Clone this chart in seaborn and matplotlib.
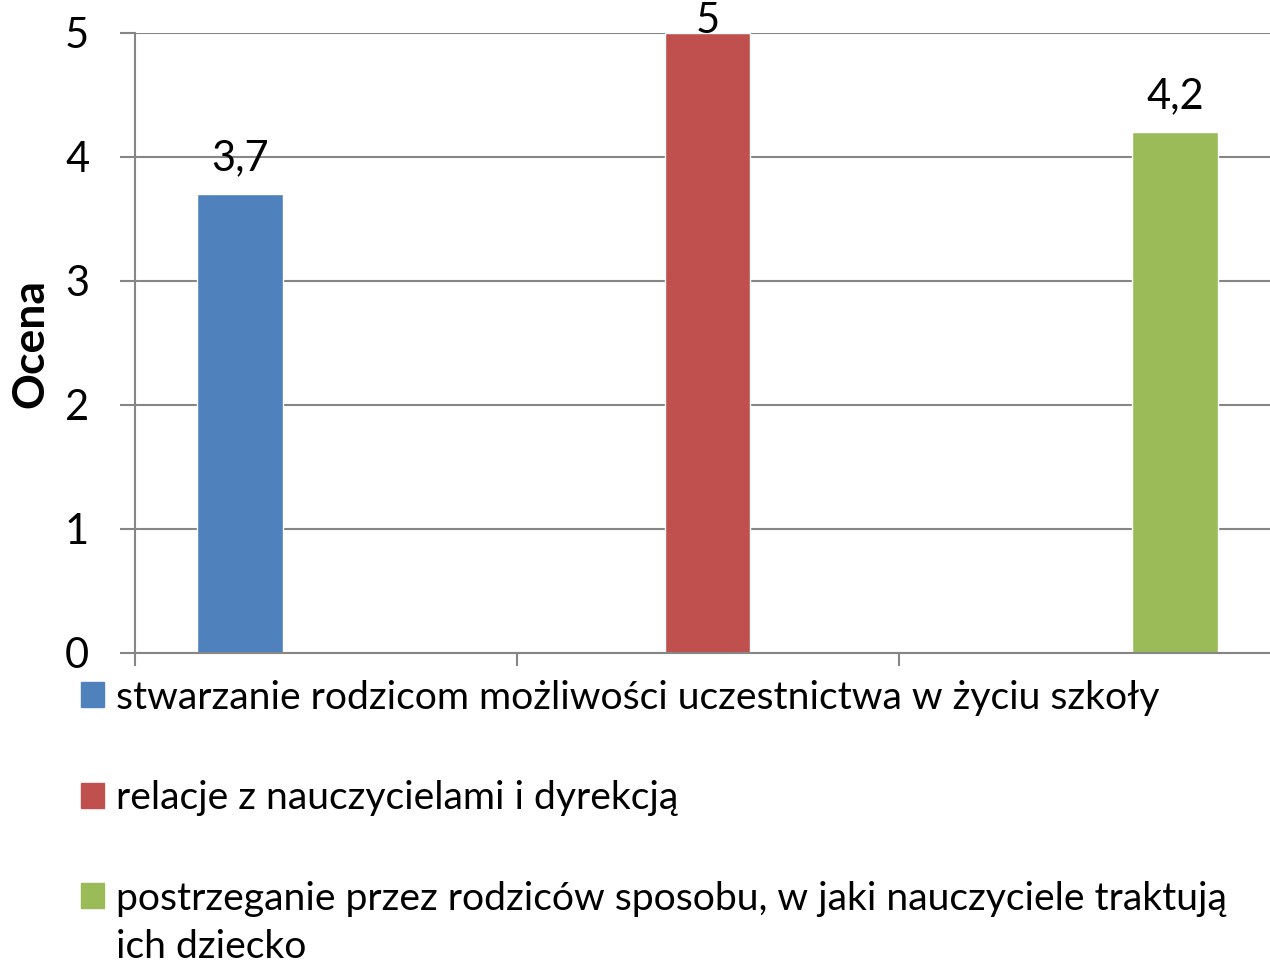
import numpy as np
import pandas as pd
import seaborn as sns
import matplotlib.pyplot as plt
from matplotlib.legend_handler import HandlerPatch

categories = [
    "stwarzanie rodzicom możliwości uczestnictwa w życiu szkoły",
    "relacje z nauczycielami i dyrekcją",
    "postrzeganie przez rodziców sposobu, w jaki nauczyciele traktują\nich dziecko",
]
values = [3.7, 5.0, 4.2]
value_labels = ["3,7", "5", "4,2"]
colors = ["#4F81BD", "#C0504D", "#9BBB59"]

df = pd.DataFrame({"kategoria": categories, "ocena": values})

sns.set_theme(style="white")
plt.rcParams["font.family"] = ["Lato", "DejaVu Sans"]
plt.rcParams["text.color"] = "black"
plt.rcParams["ytick.labelcolor"] = "black"

fig = plt.figure(figsize=(12.7, 9.65), dpi=100)
ax = fig.add_axes([135 / 1270, 312 / 965, 1146 / 1270, 620 / 965])

sns.barplot(data=df, x="kategoria", y="ocena", hue="kategoria",
            palette=colors, width=0.182, saturation=1, legend=False, ax=ax)

lo = -0.2246
hi = lo + 1146 / 467.5
ax.set_xlim(lo, hi)
ax.set_ylim(0, 5)
ax.set_yticks(range(6))
ax.set_xticks(np.linspace(lo, hi, 4)[:3])
ax.set_xticklabels([])
ax.set_xlabel("")
ax.set_ylabel("")

ax.yaxis.grid(True, color="#868686", linewidth=1.5)
ax.set_axisbelow(True)
for s in ["top", "right"]:
    ax.spines[s].set_visible(False)
for s in ["left", "bottom"]:
    ax.spines[s].set_color("#868686")
    ax.spines[s].set_linewidth(1.5)
ax.tick_params(axis="y", labelsize=30, length=11, width=1.5, color="#868686",
               labelcolor="black", direction="out", pad=22, left=True)
ax.tick_params(axis="x", length=9, width=1.5, color="#868686",
               direction="out", bottom=True)

# data labels
for i, (v, lab) in enumerate(zip(values, value_labels)):
    off = 12 if v < 4.8 else -5
    ax.annotate(lab, (i, v), xytext=(0, off), textcoords="offset points",
                ha="center", va="bottom", fontsize=30, color="black",
                annotation_clip=False)

fig.text(30 / 1270, 1 - 343 / 965, "Ocena", rotation=90, fontsize=32,
         fontweight="bold", ha="center", va="center")

leg_fs = 28.2
line_sp = 1.42


def first_line_patch(legend, orig_handle, xdescent, ydescent, width, height, fontsize):
    # square next to the first line of a two-line label
    shift = 0.5 * line_sp * fontsize if orig_handle.get_label() == "two" else 0
    return plt.Rectangle((-xdescent, -ydescent + shift), width, height)


handles = [plt.Rectangle((0, 0), 1, 1, color=c,
                         label="two" if "\n" in t else "one")
           for c, t in zip(colors, categories)]
leg = fig.legend(handles, categories, loc="upper left",
                 bbox_to_anchor=(65 / 1270, 1 - 664 / 965), frameon=False,
                 fontsize=leg_fs, handlelength=0.6, handleheight=0.6,
                 handletextpad=0.3, labelspacing=1.65, borderaxespad=0,
                 handler_map={plt.Rectangle: HandlerPatch(patch_func=first_line_patch)})
for t in leg.get_texts():
    t.set_linespacing(line_sp)

fig.savefig("out.png", dpi=100)
